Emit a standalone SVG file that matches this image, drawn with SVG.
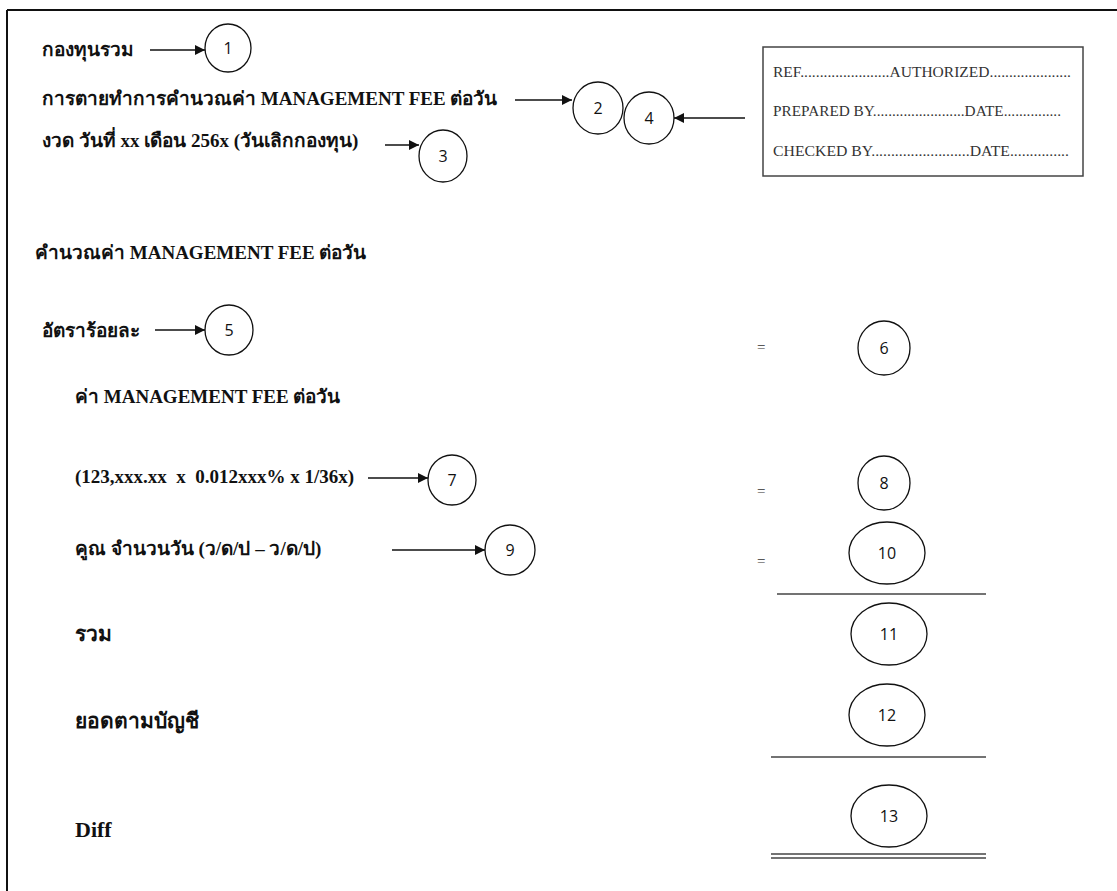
<svg xmlns="http://www.w3.org/2000/svg" width="1117" height="891" viewBox="0 0 1117 891">
<style>
.t{font-family:"Liberation Serif","Noto Sans CJK SC",serif;font-weight:bold;font-size:19px;fill:#111}
.tl{font-family:"Liberation Serif","Noto Sans CJK SC",serif;font-weight:bold;font-size:21px;fill:#111}
.b{font-family:"Liberation Serif",serif;font-size:14px;fill:#333}
.n{font-family:"Open Sans","Noto Sans",sans-serif;font-size:16px;fill:#111;text-anchor:middle}
.eq{font-family:"Liberation Serif",serif;font-size:15px;fill:#333}
.c{fill:#fff;stroke:#111;stroke-width:1.3}
.a{stroke:#111;stroke-width:1.3;fill:none}
.r{stroke:#444;stroke-width:1.3}
</style>
<defs>
<marker id="ah" viewBox="0 0 10 10" refX="10" refY="5" markerWidth="11" markerHeight="10" markerUnits="userSpaceOnUse" orient="auto">
<path d="M0,0 L10,5 L0,10 Z" fill="#111"/>
</marker>
</defs>
<rect width="1117" height="891" fill="#fff"/>
<g id="frame">
<line x1="7" y1="10" x2="1117" y2="10" stroke="#111" stroke-width="2"/>
<line x1="7" y1="10" x2="7" y2="891" stroke="#111" stroke-width="2"/>
</g>
<g id="labels">
<text class="t" x="42" y="56">กองทุนรวม</text>
<text class="t" x="42" y="105">การตายทำการคำนวณค่า MANAGEMENT FEE ต่อวัน</text>
<text class="t" x="42" y="147">งวด วันที่ xx เดือน 256x (วันเลิกกองทุน)</text>
<text class="t" x="35" y="259">คำนวณค่า MANAGEMENT FEE ต่อวัน</text>
<text class="t" x="42" y="337">อัตราร้อยละ</text>
<text class="t" x="75" y="403">ค่า MANAGEMENT FEE ต่อวัน</text>
<text class="t" x="75" y="483" xml:space="preserve">(123,xxx.xx  x  0.012xxx% x 1/36x)</text>
<text class="t" x="75" y="555">คูณ จำนวนวัน (ว/ด/ป – ว/ด/ป)</text>
<text class="tl" x="75" y="641">รวม</text>
<text class="tl" x="75" y="728">ยอดตามบัญชี</text>
<text class="t" x="75" y="837" style="font-size:22px">Diff</text>
<text class="eq" x="757" y="352">=</text>
<text class="eq" x="757" y="496">=</text>
<text class="eq" x="757" y="566">=</text>
</g>
<g id="box">
<rect x="763" y="47" width="320" height="129" fill="#fff" stroke="#444" stroke-width="1.5"/>
<text class="b" x="773" y="77" textLength="298" lengthAdjust="spacingAndGlyphs">REF.......................AUTHORIZED.....................</text>
<text class="b" x="773" y="116" textLength="288" lengthAdjust="spacingAndGlyphs">PREPARED BY........................DATE...............</text>
<text class="b" x="773" y="156" textLength="296" lengthAdjust="spacingAndGlyphs">CHECKED BY.........................DATE...............</text>
</g>
<g id="connectors">
<line class="a" x1="150" y1="50" x2="205" y2="50" marker-end="url(#ah)"/>
<line class="a" x1="515" y1="100" x2="572" y2="100" marker-end="url(#ah)"/>
<line class="a" x1="745" y1="118" x2="674" y2="118" marker-end="url(#ah)"/>
<line class="a" x1="385" y1="145" x2="419" y2="145" marker-end="url(#ah)"/>
<line class="a" x1="155" y1="330" x2="205" y2="330" marker-end="url(#ah)"/>
<line class="a" x1="368" y1="478" x2="428" y2="478" marker-end="url(#ah)"/>
<line class="a" x1="392" y1="550" x2="485" y2="550" marker-end="url(#ah)"/>
<line class="r" x1="777" y1="594" x2="986" y2="594"/>
<line class="r" x1="771" y1="757" x2="986" y2="757"/>
<line class="r" x1="771" y1="854" x2="986" y2="854"/>
<line class="r" x1="771" y1="858" x2="986" y2="858"/>
</g>
<g id="n1"><ellipse class="c" cx="228" cy="48" rx="23" ry="24"/><text class="n" x="228" y="54">1</text></g>
<g id="n2"><ellipse class="c" cx="598" cy="108" rx="25" ry="26"/><text class="n" x="598" y="114">2</text></g>
<g id="n3"><ellipse class="c" cx="443" cy="156" rx="24" ry="26"/><text class="n" x="443" y="162">3</text></g>
<g id="n4"><ellipse class="c" cx="649" cy="118" rx="25" ry="26"/><text class="n" x="649" y="124">4</text></g>
<g id="n5"><ellipse class="c" cx="229" cy="330" rx="24" ry="25"/><text class="n" x="229" y="336">5</text></g>
<g id="n6"><ellipse class="c" cx="884" cy="348" rx="26" ry="27"/><text class="n" x="884" y="354">6</text></g>
<g id="n7"><ellipse class="c" cx="452" cy="480" rx="24" ry="25"/><text class="n" x="452" y="486">7</text></g>
<g id="n8"><ellipse class="c" cx="884" cy="483" rx="26" ry="27"/><text class="n" x="884" y="489">8</text></g>
<g id="n9"><ellipse class="c" cx="510" cy="550" rx="25" ry="25"/><text class="n" x="510" y="556">9</text></g>
<g id="n10"><ellipse class="c" cx="887" cy="553" rx="38" ry="31"/><text class="n" x="887" y="559">10</text></g>
<g id="n11"><ellipse class="c" cx="889" cy="634" rx="38" ry="31"/><text class="n" x="889" y="640">11</text></g>
<g id="n12"><ellipse class="c" cx="887" cy="715" rx="38" ry="31"/><text class="n" x="887" y="721">12</text></g>
<g id="n13"><ellipse class="c" cx="889" cy="816" rx="38" ry="31"/><text class="n" x="889" y="822">13</text></g>
</svg>
